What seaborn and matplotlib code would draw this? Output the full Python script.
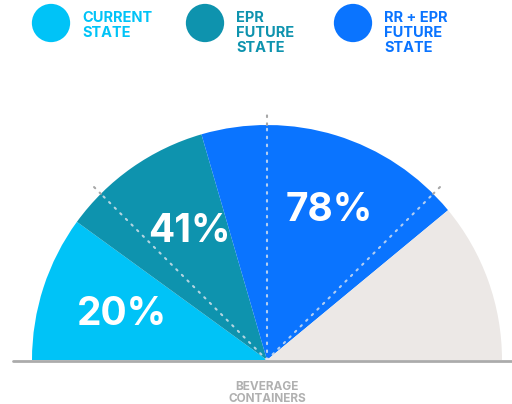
import numpy as np
import pandas as pd
import matplotlib
matplotlib.use("Agg")
import matplotlib.pyplot as plt
from matplotlib.patches import Wedge
import seaborn as sns

# Cumulative share of beverage containers captured in each scenario
states = ["CURRENT\nSTATE", "EPR\nFUTURE\nSTATE", "RR + EPR\nFUTURE\nSTATE"]
values = [20, 41, 78]
colors = ["#00C3F7", "#0E93AE", "#0A74FF"]
remainder_color = "#ECE8E6"
category = "BEVERAGE\nCONTAINERS"
grid_marks = [25, 50, 75]

sns.set_theme(style="white")
plt.rcParams["font.family"] = ["Inter", "DejaVu Sans"]

W, H = 512, 404
fig = plt.figure(figsize=(W / 100, H / 100), dpi=100)
ax = fig.add_axes([0, 0, 1, 1])
ax.set_xlim(0, W)
ax.set_ylim(0, H)
ax.set_aspect("equal")
ax.axis("off")

cx, cy, R = 267, 44, 235


def angle(pct):
    return 180 - pct * 1.8


# gauge segments
bounds = [0] + values + [100]
seg_colors = colors + [remainder_color]
for a, b, c in zip(bounds[:-1], bounds[1:], seg_colors):
    ax.add_patch(Wedge((cx, cy), R, angle(b), angle(a), facecolor=c,
                       edgecolor="none", zorder=2))

# dotted quarter guides: pale inside the gauge, grey beyond its rim
dots = (0, (0.8, 3.0))
for g in grid_marks:
    t = np.deg2rad(angle(g))
    ux, uy = np.cos(t), np.sin(t)
    ax.plot([cx, cx + R * ux], [cy, cy + R * uy], ls=dots, lw=1.5,
            color="#dfe6ee", alpha=0.8, dash_capstyle="round", zorder=3)
    ax.plot([cx + R * ux, cx + (R + 15) * ux], [cy + R * uy, cy + (R + 15) * uy],
            ls=dots, lw=1.5, color="#a8a8a8", dash_capstyle="round", zorder=3)

# baseline
ax.plot([13, W], [cy - 1, cy - 1], color="#ababab", lw=2, zorder=4)

# value labels
label_pos = [9.6, 32.6, 62.5]
label_r = [152, 150, 162]
for v, p, r in zip(values, label_pos, label_r):
    t = np.deg2rad(angle(p))
    ax.text(cx + r * np.cos(t), cy + r * np.sin(t), f"{v}%",
            ha="center", va="center", color="white", fontsize=28,
            fontweight="bold", zorder=5)

# legend
leg = pd.DataFrame({"x": [51, 205, 353], "y": [H - 23] * 3, "state": states})
sns.scatterplot(data=leg, x="x", y="y", hue="state",
                palette=dict(zip(states, colors)), s=760, linewidth=0,
                legend=False, ax=ax, zorder=5)
for (x, s, c) in zip(leg["x"], states, colors):
    ax.text(x + 31, H - 11, s, ha="left", va="top", color=c,
            fontsize=10.5, fontweight="bold", linespacing=1.1)

ax.text(cx, H - 381, category, ha="center", va="top", color="#b0b0b0",
        fontsize=8.5, fontweight="bold", linespacing=1.05)

ax.set_xlim(0, W)
ax.set_ylim(0, H)
ax.set_xlabel("")
ax.set_ylabel("")
fig.savefig("out.png", dpi=100)
